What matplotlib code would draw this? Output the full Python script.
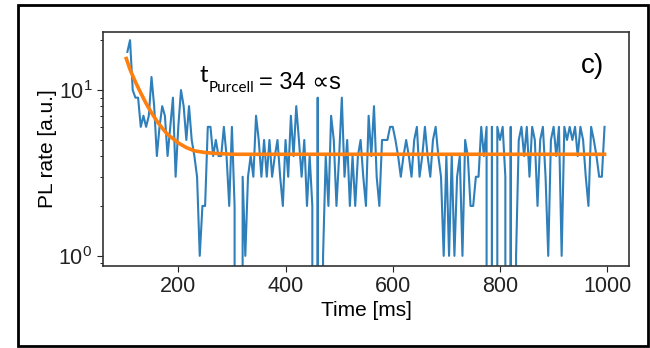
import matplotlib.pyplot as plt
import numpy as np
from matplotlib.patches import Rectangle

plt.rcParams['font.family'] = ['Liberation Sans', 'DejaVu Sans']
plt.rcParams['mathtext.fontset'] = 'custom'
plt.rcParams['mathtext.rm'] = 'Liberation Sans'
plt.rcParams['mathtext.it'] = 'Liberation Sans'

# PL counts per 5 ms bin (t = 105 ... 995 ms)
time_start, time_step = 105, 5
pl_rate = [
    17, 20, 10, 9, 9, 6, 7, 6, 7, 12,
    8, 4, 6, 8, 7, 4, 6, 9, 3, 6,
    10, 8, 5, 8, 5, 4, 3, 1, 2, 2,
    6, 6, 4, 5, 4, 4, 6, 4, 2, 6,
    2, 0, 0, 3, 1, 3, 4, 3, 7, 5,
    3, 5, 3, 5, 3, 4, 5, 3, 2, 5,
    3, 7, 4, 8, 5, 3, 5, 2, 4, 2,
    0, 9, 0, 1, 4, 2, 7, 5, 2, 4,
    9, 3, 5, 2, 4, 2, 4, 5, 3, 2,
    7, 4, 8, 3, 2, 5, 5, 5, 6, 6,
    5, 4, 3, 4, 5, 4, 3, 5, 6, 3,
    4, 6, 4, 3, 5, 6, 4, 3, 1, 4,
    1, 4, 1, 3, 4, 1, 5, 4, 2, 2,
    3, 3, 6, 4, 6, 0, 6, 0, 6, 5,
    6, 3, 0, 6, 0, 1, 5, 6, 4, 6,
    3, 6, 5, 2, 5, 6, 3, 1, 5, 6,
    4, 6, 1, 6, 5, 6, 5, 6, 4, 6,
    5, 3, 2, 6, 5, 4, 3, 3, 6,
]
time_ms = time_start + time_step * np.arange(len(pl_rate))

# exponential fit curve
fit_time = [103, 110, 120, 130, 140, 150, 160, 170, 180, 190, 200, 215, 230, 250, 270, 300, 995]
fit_rate = [15.5, 13.3, 11.2, 9.6, 8.3, 7.3, 6.5, 5.9, 5.4, 5.1, 4.8, 4.5, 4.3, 4.2, 4.15, 4.1, 4.1]

x_ticks = [200, 400, 600, 800, 1000]

fig = plt.figure(figsize=(6.5, 3.48), dpi=100)
ax = fig.add_axes([0.158, 0.236, 0.81, 0.672])

ax.plot(time_ms, pl_rate, color='#2f7fba', lw=1.5)
ax.plot(fit_time, fit_rate, color='#ff7f0e', lw=2.6)

ax.set_yscale('log', nonpositive='clip')
ax.set_xlim(59, 1041)
ax.set_ylim(0.87, 22.4)
ax.set_xticks(x_ticks)
ax.set_xticklabels([str(v) for v in x_ticks])
ax.set_yticks([1, 10])
ax.set_yticklabels(['10$^0$', '10$^1$'])
ax.tick_params(labelsize=15.5, length=4, width=0.8, colors='#222222')
ax.tick_params(which='minor', length=2.5, width=0.6)

for side in ax.spines:
    ax.spines[side].set_color('#333333')
    ax.spines[side].set_linewidth(1.2)

ax.set_xlabel('Time [ms]', fontsize=15, labelpad=3)
ax.set_ylabel('PL rate [a.u.]', fontsize=15, labelpad=1)

# annotation: t_Purcell = 34 ∝s
t_main = fig.text(199 / 650, 1 - 82 / 348, 't', fontsize=17, family=['Lato', 'DejaVu Sans'],
                  va='baseline', ha='left')
sub = ax.annotate('Purcell', xy=(1, 0), xycoords=t_main, xytext=(1, -4), textcoords='offset points',
                  fontsize=11, family=['Lato', 'DejaVu Sans'], va='baseline', ha='left')
ax.annotate('= 34 ∝s', xy=(1, 0), xycoords=sub, xytext=(3, 4), textcoords='offset points',
            fontsize=17, va='baseline', ha='left', annotation_clip=False)

fig.text(593 / 650, 1 - 66 / 348, 'c)', fontsize=20, ha='center', va='center')

# frame around the whole panel
fig.patches.append(Rectangle((18 / 650, 2 / 348), 630 / 650, 341 / 348, transform=fig.transFigure,
                             fill=False, edgecolor='black', lw=2))

fig.savefig('out.png', dpi=100)
